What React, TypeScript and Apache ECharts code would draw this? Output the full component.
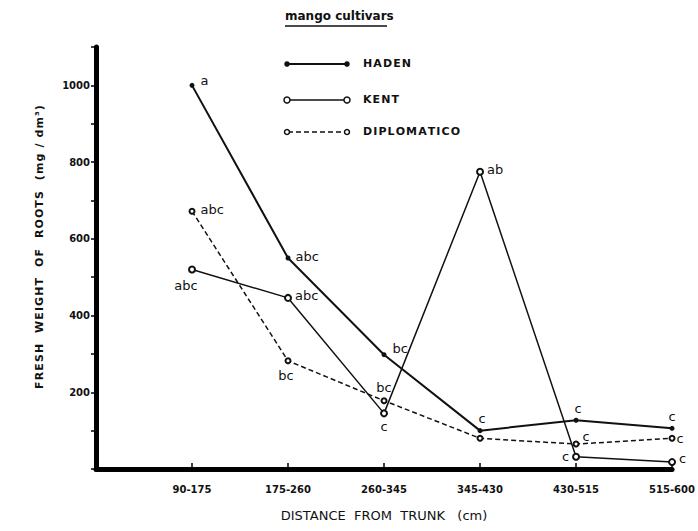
import React, { useEffect, useRef } from "react";
import * as echarts from "echarts";

const categories = ["", "90-175", "175-260", "260-345", "345-430", "430-515", "515-600"];
const hadenValues = [null, 1000, 550, 298, 100, 127, 106];
const kentValues = [null, 520, 446, 145, 775, 32, 18];
const diplomaticoValues = [null, 672, 282, 178, 80, 65, 80];
const hadenLetters = ["", "a", "abc", "bc", "c", "c", "c"];
const kentLetters = ["", "abc", "abc", "c", "ab", "c", "c"];
const diplomaticoLetters = ["", "abc", "bc", "bc", "", "c", "c"];

const FONT = "DejaVu Sans";

const hadenPos: any[] = [null, ["right", 3, -5], ["right", 2, -2], ["right", 3, -6], ["top", 2, 0], ["top", 2, 0], ["top", 0, 0]];
const kentPos: any[] = [null, ["bottom", -6, 2], ["right", 0, -2], ["bottom", 0, 0], ["right", 0, -2], ["left", 0, 0], ["right", 0, -4]];
const diplPos: any[] = [null, ["right", 2, -2], ["bottom", -2, 2], ["top", 0, 0], ["right", 0, 0], ["right", 0, -8], ["right", -2, 0]];

function spaced(s: string) {
  return s.split("").join("\u200A");
}

function build(values: (number | null)[], letters: string[], pos: any[]) {
  return values.map((v, i) => {
    if (v === null) return null;
    const p = pos[i] || ["right", 0, 0];
    return {
      value: v,
      label: {
        show: letters[i] !== "",
        formatter: letters[i],
        position: p[0],
        offset: [p[1], p[2]],
        color: "#111",
      },
    };
  });
}

export default function App() {
  const ref = useRef<HTMLDivElement>(null);
  useEffect(() => {
    const chart = echarts.init(ref.current!, null, { renderer: "svg" });
    const labelStyle = { fontFamily: FONT, fontSize: 13, color: "#111", distance: 3 };
    const legendRows = [
      { y: 64, name: "HADEN", type: "haden" },
      { y: 100, name: "KENT", type: "kent" },
      { y: 132, name: "DIPLOMATICO", type: "dipl" },
    ];
    const legendGraphics: any[] = [
      {
        type: "text",
        left: 285,
        top: 10,
        style: { text: "mango cultivars", font: `bold 12px ${FONT}`, fill: "#111" },
      },
      { type: "line", shape: { x1: 285, y1: 26, x2: 387, y2: 26 }, style: { stroke: "#111", lineWidth: 1.5 } },
    ];
    legendRows.forEach((r) => {
      legendGraphics.push({
        type: "line",
        shape: { x1: 288, y1: r.y, x2: 346, y2: r.y },
        style: {
          stroke: "#111",
          lineWidth: r.type === "haden" ? 2 : 1.5,
          lineDash: r.type === "dipl" ? [5, 3] : null,
        },
      });
      [287, 347].forEach((cx) => {
        legendGraphics.push({
          type: "circle",
          shape: { cx, cy: r.y, r: r.type === "haden" ? 2 : r.type === "kent" ? 3 : 2.5 },
          style: { fill: r.type === "haden" ? "#111" : "#fff", stroke: "#111", lineWidth: 1.5 },
        });
      });
      legendGraphics.push({
        type: "text",
        left: 363,
        top: r.y - 6,
        style: { text: spaced(r.name), font: `bold 11px ${FONT}`, fill: "#111" },
      });
    });

    chart.setOption({
      animation: false,
      backgroundColor: "#fff",
      grid: { left: 96, right: 24, top: 47, bottom: 62 },
      xAxis: {
        type: "category",
        data: categories,
        boundaryGap: false,
        axisLine: { lineStyle: { color: "#000", width: 5 } },
        axisTick: {
          inside: true,
          length: 6,
          lineStyle: { color: "#000", width: 1.5 },
          interval: (i: number) => i > 0,
        },
        axisLabel: {
          margin: 15,
          fontFamily: FONT,
          fontWeight: "bold",
          fontSize: 10,
          color: "#111",
        },
        name: "DISTANCE  FROM  TRUNK   (cm)",
        nameLocation: "middle",
        nameGap: 40,
        nameTextStyle: { fontFamily: FONT, fontSize: 13, color: "#111" },
      },
      yAxis: {
        type: "value",
        min: 0,
        max: 1100,
        interval: 100,
        splitLine: { show: false },
        axisLine: { show: true, lineStyle: { color: "#000", width: 5 } },
        axisTick: { show: true, length: 5, lineStyle: { color: "#000", width: 1.5 } },
        axisLabel: {
          margin: 6,
          fontFamily: FONT,
          fontWeight: "bold",
          fontSize: 10,
          color: "#111",
          formatter: (v: number) => (v > 0 && v % 200 === 0 && v <= 1000 ? String(v) : ""),
        },
        name: "\u2002\u2002\u2002\u2002" + spaced("FRESH  WEIGHT  OF  ROOTS  (mg / dm³)"),
        nameLocation: "middle",
        nameGap: 51,
        nameTextStyle: { fontFamily: FONT, fontSize: 11, fontWeight: "bold", color: "#111" },
      },
      graphic: legendGraphics,
      series: [
        {
          name: "HADEN",
          type: "line",
          data: build(hadenValues, hadenLetters, hadenPos),
          symbol: "circle",
          symbolSize: 5,
          itemStyle: { color: "#111" },
          lineStyle: { color: "#111", width: 2 },
          label: labelStyle,
          z: 3,
        },
        {
          name: "KENT",
          type: "line",
          data: build(kentValues, kentLetters, kentPos),
          symbol: "emptyCircle",
          symbolSize: 6,
          itemStyle: { color: "#111", borderWidth: 1.5 },
          lineStyle: { color: "#111", width: 1.5 },
          label: labelStyle,
          z: 2,
        },
        {
          name: "DIPLOMATICO",
          type: "line",
          data: build(diplomaticoValues, diplomaticoLetters, diplPos),
          symbol: "emptyCircle",
          symbolSize: 5,
          itemStyle: { color: "#111", borderWidth: 1.5 },
          lineStyle: { color: "#111", width: 1.5, type: [5, 3] },
          label: labelStyle,
          z: 2,
        },
      ],
    });
    return () => chart.dispose();
  }, []);
  return <div ref={ref} style={{ width: 698, height: 531, position: "absolute", left: 0, top: 0 }} />;
}
